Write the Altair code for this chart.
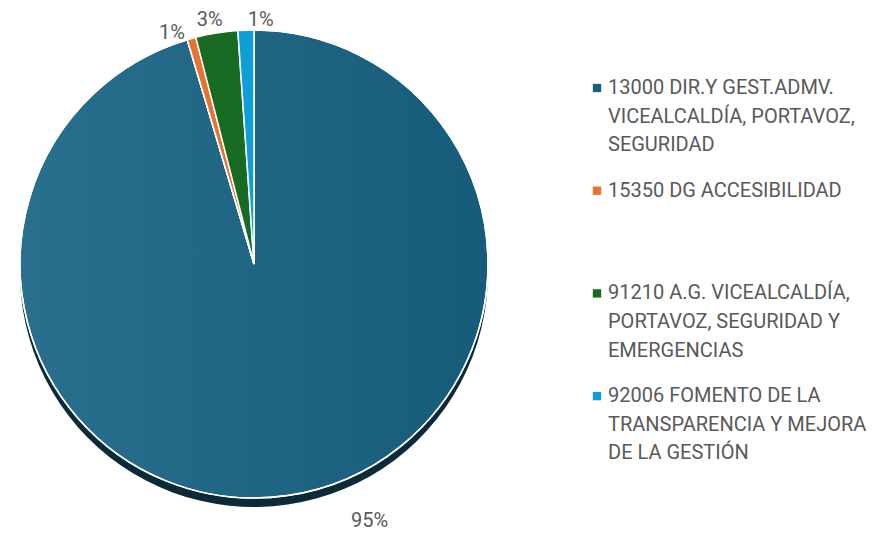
import altair as alt
import pandas as pd

# ---- data ----
categories = [
    "13000 DIR.Y GEST.ADMV. VICEALCALDÍA, PORTAVOZ, SEGURIDAD",
    "15350 DG ACCESIBILIDAD",
    "91210 A.G. VICEALCALDÍA, PORTAVOZ, SEGURIDAD Y EMERGENCIAS",
    "92006 FOMENTO DE LA TRANSPARENCIA Y MEJORA DE LA GESTIÓN",
]
values = [95.4, 0.6, 2.9, 1.1]
colors = ["#1a5f80", "#e97132", "#196b24", "#0f9ed5"]
legend_lines = [
    ["13000 DIR.Y GEST.ADMV.", "VICEALCALDÍA, PORTAVOZ,", "SEGURIDAD"],
    ["15350 DG ACCESIBILIDAD"],
    ["91210 A.G. VICEALCALDÍA,", "PORTAVOZ, SEGURIDAD Y", "EMERGENCIAS"],
    ["92006 FOMENTO DE LA", "TRANSPARENCIA Y MEJORA", "DE LA GESTIÓN"],
]

# ---- layout / style ----
W, H = 864, 524
CX, CY, R = 246, 256, 234
FONT = "Roboto"
TXT = "#595959"
LEG_X, LEG_Y0, ENTRY_STEP, LINE_STEP = 600, 80, 102.7, 28.6

df = pd.DataFrame({"cat": categories, "value": values, "color": colors,
                   "order": list(range(len(categories)))})

legend_rows = []
for i, lines in enumerate(legend_lines):
    for j, t in enumerate(lines):
        legend_rows.append({"entry": i, "line": j, "text": t, "color": colors[i]})
ldf = pd.DataFrame(legend_rows)

base = alt.Chart(df).encode(
    theta=alt.Theta("value:Q", stack=True),
    order=alt.Order("order:Q"),
)

shadow = base.mark_arc(outerRadius=R, fill="#0c2a38").encode(
    x=alt.value(CX), y=alt.value(CY + 9)
)

grad = alt.Gradient(
    gradient="linear",
    stops=[alt.GradientStop(color="#2b6f8e", offset=0),
           alt.GradientStop(color="#175b7a", offset=1)],
    x1=0, x2=1, y1=0, y2=0,
)
blue = base.mark_arc(outerRadius=R, fill=grad, stroke="white", strokeWidth=1.5).encode(
    x=alt.value(CX), y=alt.value(CY)
)
others = base.mark_arc(outerRadius=R, stroke="white", strokeWidth=1.5).encode(
    x=alt.value(CX), y=alt.value(CY),
    fill=alt.Fill("color:N", scale=None),
    fillOpacity=alt.condition(alt.datum.order == 0, alt.value(0), alt.value(1)),
)


def label_layer(idx, radius, dx, dy):
    return base.mark_text(
        radius=radius, dx=dx, dy=dy, align="center", baseline="middle",
        fontSize=20, font=FONT, color=TXT,
    ).encode(
        x=alt.value(CX), y=alt.value(CY),
        text=alt.Text("pct:Q", format=".0%"),
        opacity=alt.condition(alt.datum.order == idx, alt.value(1), alt.value(0)),
    ).transform_joinaggregate(total="sum(value)").transform_calculate(
        pct="datum.value / datum.total"
    )


labels = [
    label_layer(0, 240, 81, 20),
    label_layer(1, 240, -18, 0),
    label_layer(2, 240, -6, -7),
    label_layer(3, 240, 15, -4),
]

lbase = alt.Chart(ldf).transform_calculate(
    ypix=f"{LEG_Y0} + datum.entry * {ENTRY_STEP} + datum.line * {LINE_STEP}"
)
leg_sq = lbase.transform_filter(alt.datum.line == 0).mark_square(size=70, opacity=1).encode(
    x=alt.value(LEG_X - 11),
    y=alt.Y("ypix:Q", scale=None, axis=None),
    color=alt.Color("color:N", scale=None),
)
leg_txt = lbase.mark_text(align="left", baseline="middle", fontSize=20, font=FONT, color=TXT).encode(
    x=alt.value(LEG_X),
    y=alt.Y("ypix:Q", scale=None, axis=None),
    text="text:N",
)

chart = alt.layer(shadow, blue, others, *labels, leg_sq, leg_txt).properties(
    width=W, height=H, padding=0, autosize=alt.AutoSizeParams(type="none")
).configure_view(stroke=None)

chart.save("out.html", embed_options={"renderer": "svg", "actions": False})
